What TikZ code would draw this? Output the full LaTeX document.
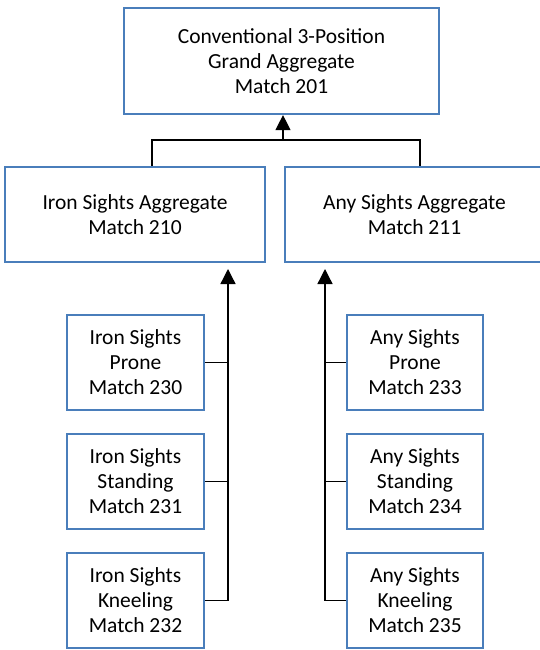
\documentclass[tikz,border=0pt]{standalone}
\usepackage{fontspec}
\setmainfont{Carlito}
\usetikzlibrary{arrows.meta}
\definecolor{boxblue}{HTML}{4A7EBB}

\begin{document}
\begin{tikzpicture}[x=1pt,y=1pt]
  \clip (0,0) rectangle (540,-650);
  \begin{scope}[every node/.style={rectangle,draw=boxblue,line width=2.2pt,inner sep=0pt,
      align=center,font=\fontsize{21.5}{25}\selectfont}]
    \node[minimum width=315,minimum height=106] (G201) at (281.5,-61) {Conventional 3-Position\\Grand Aggregate\\Match 201};
    \node[minimum width=260,minimum height=95] (A210) at (135,-214.5) {Iron Sights Aggregate\\Match 210};
    \node[minimum width=259,minimum height=95] (A211) at (414.5,-214.5) {Any Sights Aggregate\\Match 211};
    \node[minimum width=137,minimum height=95] (I230) at (135.5,-362.5) {Iron Sights\\Prone\\Match 230};
    \node[minimum width=137,minimum height=95] (I231) at (135.5,-481.5) {Iron Sights\\Standing\\Match 231};
    \node[minimum width=137,minimum height=95] (I232) at (135.5,-600.5) {Iron Sights\\Kneeling\\Match 232};
    \node[minimum width=136,minimum height=95] (S233) at (415,-362.5) {Any Sights\\Prone\\Match 233};
    \node[minimum width=136,minimum height=95] (S234) at (415,-481.5) {Any Sights\\Standing\\Match 234};
    \node[minimum width=136,minimum height=95] (S235) at (415,-600.5) {Any Sights\\Kneeling\\Match 235};
  \end{scope}
  \coordinate (ldrop) at (152,-140);
  \coordinate (rdrop) at (420,-140);
  \coordinate (topbus) at (283,-140);
  \coordinate (ironbus) at (228,-269);
  \coordinate (anybus) at (325,-269);
  \begin{scope}[line width=1.3pt,arrow/.style={-{Triangle[width=15pt,length=15pt]}}]
    \draw (ldrop |- A210.north) -- (ldrop) -- (rdrop) -- (rdrop |- A211.north);
    \draw[arrow] (topbus) -- (G201.south -| topbus);
    \draw[arrow] (I232.east) -| (ironbus);
    \draw (I230.east) -- (I230.east -| ironbus);
    \draw (I231.east) -- (I231.east -| ironbus);
    \draw[arrow] (S235.west) -| (anybus);
    \draw (S233.west) -- (S233.west -| anybus);
    \draw (S234.west) -- (S234.west -| anybus);
  \end{scope}
\end{tikzpicture}
\end{document}
